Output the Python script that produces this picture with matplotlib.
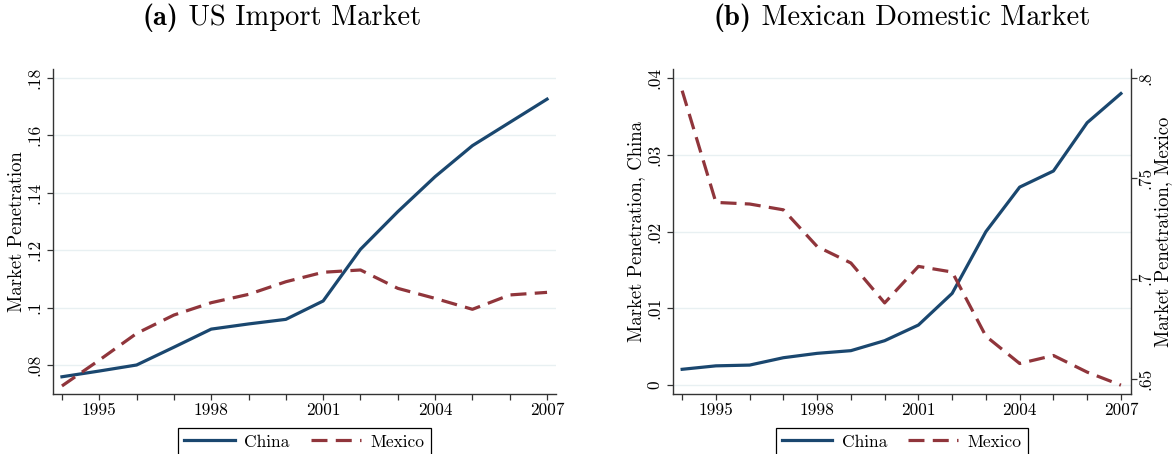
import numpy as np
import matplotlib
matplotlib.use("Agg")
import matplotlib.pyplot as plt

# Market penetration series, 1994-2007
years = list(range(1994, 2008))

us_china = [0.0759, 0.0779, 0.0800, 0.0862, 0.0925, 0.0943, 0.0959,
            0.1023, 0.1203, 0.1334, 0.1456, 0.1564, 0.1645, 0.1726]
us_mexico = [0.0727, 0.0817, 0.0910, 0.0974, 0.1017, 0.1046, 0.1090,
             0.1123, 0.1131, 0.1067, 0.1032, 0.0994, 0.1044, 0.1053]

mx_china = [0.00205, 0.0025, 0.0026, 0.00356, 0.00413, 0.00448, 0.00578,
            0.00782, 0.01195, 0.0200, 0.0258, 0.0279, 0.0342, 0.0380]
mx_mexico = [0.7937, 0.7380, 0.7372, 0.7343, 0.7160, 0.7078, 0.6879,
             0.7061, 0.7033, 0.6713, 0.6577, 0.6617, 0.6534, 0.6469]

xtick_years = [1995, 1998, 2001, 2004, 2007]
us_yticks = [0.08, 0.10, 0.12, 0.14, 0.16, 0.18]
us_ylabels = [".08", ".1", ".12", ".14", ".16", ".18"]
cn_yticks = [0, 0.01, 0.02, 0.03, 0.04]
cn_ylabels = ["0", ".01", ".02", ".03", ".04"]
mx_yticks = [0.65, 0.70, 0.75, 0.80]
mx_ylabels = [".65", ".7", ".75", ".8"]

NAVY = "#1a476f"
MAROON = "#90353b"
GRID = "#e8f0f2"
AXC = "#333333"

TICK_FS = 12.5
LABEL_FS = 13.5
LEG_FS = 12.5
TITLE_FS = 20.5

plt.rcParams["font.family"] = ["cmr10", "DejaVu Serif"]
plt.rcParams["axes.unicode_minus"] = False

W, H = 1175, 454
fig = plt.figure(figsize=(W / 100, H / 100), dpi=100)


def px_axes(x0, x1, y0, y1):
    return fig.add_axes([x0 / W, 1 - y1 / H, (x1 - x0) / W, (y1 - y0) / H])


def style(ax):
    for s in ["top", "right"]:
        ax.spines[s].set_visible(False)
    for s in ["left", "bottom"]:
        ax.spines[s].set_color(AXC)
        ax.spines[s].set_linewidth(1.0)
    ax.set_xticks(xtick_years)
    ax.set_xticks(years, minor=True)
    ax.tick_params(axis="x", which="both", direction="out", length=4.5,
                   width=0.9, color=AXC, labelsize=TICK_FS, pad=2)
    ax.tick_params(axis="y", direction="out", length=4.5, width=0.9,
                   color=AXC, labelsize=TICK_FS, pad=3)
    ax.yaxis.grid(True, color=GRID, linewidth=1.0)
    ax.set_axisbelow(True)
    for lbl in ax.get_yticklabels():
        lbl.set_rotation(90)
        lbl.set_va("center")


def add_legend(ax, handles):
    leg = ax.legend(handles, ["China", "Mexico"], loc="upper center",
                    bbox_to_anchor=(0.5, -0.105), borderaxespad=0, ncol=2,
                    frameon=True, fancybox=False, edgecolor="black",
                    fontsize=LEG_FS, handlelength=2.9, handletextpad=0.55,
                    columnspacing=1.2, borderpad=0.35, framealpha=1)
    leg.get_frame().set_linewidth(0.9)


dash = (5.0, 2.6)
lw = 2.3

# (a) US import market
ax1 = px_axes(53, 556, 69, 394)
a1, = ax1.plot(years, us_china, color=NAVY, lw=lw)
a2, = ax1.plot(years, us_mexico, color=MAROON, lw=lw, dashes=dash)
ax1.set_xlim(1993.76, 2007.24)
ax1.set_ylim(0.0699, 0.1831)
ax1.set_yticks(us_yticks)
ax1.set_yticklabels(us_ylabels)
style(ax1)
ax1.set_ylabel("Market Penetration", fontsize=LABEL_FS)
ax1.yaxis.set_label_coords(-27 / 503, 0.5)
add_legend(ax1, [a1, a2])

# (b) Mexican domestic market, China on the left axis, Mexico on the right
ax2 = px_axes(672.7, 1130.7, 69, 394)
b1, = ax2.plot(years, mx_china, color=NAVY, lw=lw)
ax2.set_xlim(1993.72, 2007.29)
ax2.set_ylim(-0.00117, 0.0412)
ax2.set_yticks(cn_yticks)
ax2.set_yticklabels(cn_ylabels)
style(ax2)
ax2.set_ylabel("Market Penetration, China", fontsize=LABEL_FS)
ax2.yaxis.set_label_coords(-28 / 458, 0.5)

ax3 = ax2.twinx()
b2, = ax3.plot(years, mx_mexico, color=MAROON, lw=lw, dashes=dash)
ax3.set_ylim(0.6425, 0.8045)
ax3.set_yticks(mx_yticks)
ax3.set_yticklabels(mx_ylabels, rotation=90, va="center")
for s in ["top", "left", "bottom"]:
    ax3.spines[s].set_visible(False)
ax3.spines["right"].set_color(AXC)
ax3.spines["right"].set_linewidth(1.0)
ax3.tick_params(axis="y", direction="out", length=4.5, width=0.9,
                color=AXC, labelsize=TICK_FS, pad=1)
ax3.set_ylabel("Market Penetration, Mexico", fontsize=LABEL_FS, rotation=90)
ax3.yaxis.set_label_coords(1 + 23 / 458, 0.5)
add_legend(ax3, [b1, b2])


def panel_title(cx, tag, text):
    # bold tag followed by regular text, centred as a unit
    y = 1 - 18 / H
    t1 = fig.text(0, y, tag, fontfamily="cmb10", fontsize=TITLE_FS,
                  va="center", ha="left")
    t2 = fig.text(0, y, " " + text, fontsize=TITLE_FS, va="center", ha="left")
    r = fig.canvas.get_renderer()
    w1 = t1.get_window_extent(r).width
    w2 = t2.get_window_extent(r).width
    x0 = cx - (w1 + w2) / 2
    t1.set_x(x0 / W)
    t2.set_x((x0 + w1) / W)


panel_title(282, "(a)", "US Import Market")
panel_title(902, "(b)", "Mexican Domestic Market")

fig.savefig("out.png", dpi=100)
